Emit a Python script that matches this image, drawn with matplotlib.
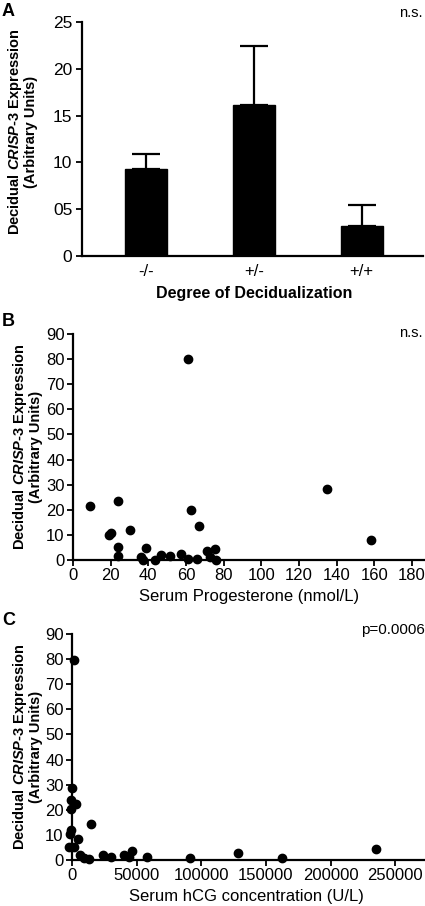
from matplotlib import pyplot as plt
import numpy as np

plt.rcParams['font.family'] = ['Liberation Sans', 'DejaVu Sans']
plt.rcParams['mathtext.fontset'] = 'custom'
plt.rcParams['mathtext.bfit'] = 'Liberation Sans:italic:bold'
plt.rcParams['mathtext.rm'] = 'Liberation Sans'

# Panel A - bar chart
groups = ['-/-', '+/-', '+/+']
means = [9.25, 16.15, 3.25]
upper_err = [1.6, 6.25, 2.2]
a_ticks = [0, 5, 10, 15, 20, 25]
a_ticklabels = ['0', '05', '10', '15', '20', '25']

# Panel B - progesterone scatter
prog_x = [9.0, 24.0, 19.3, 20.2, 23.9, 23.9, 30.2, 36.1, 37.0, 38.9, 43.5, 46.7,
          51.5, 57.3, 61.2, 61.2, 62.6, 66.1, 67.2, 71.3, 73.0, 75.8, 75.7,
          134.7, 158.4]
prog_y = [21.6, 23.5, 10.0, 10.8, 5.3, 1.6, 11.9, 1.1, 0.0, 4.8, 0.0, 1.9,
          1.6, 2.4, 80.0, 0.5, 19.9, 0.5, 13.7, 3.5, 1.1, 0.0, 4.5,
          28.4, 8.0]

# Panel C - hCG scatter
hcg_x = [1500, 0, -500, 2800, -700, -900, -1500, -2600, 1300, 4600, 14700,
         6400, 9500, 12900, 24000, 30500, 40600, 46300, 44300, 58000, 91100,
         128600, 162300, 235000]
hcg_y = [79.8, 28.8, 23.9, 22.2, 20.2, 12.0, 10.4, 5.0, 5.0, 8.2, 14.3,
         2.0, 0.8, 0.3, 2.1, 1.1, 2.1, 3.7, 1.1, 1.1, 0.8,
         2.8, 0.8, 4.5]

ylabel = 'Decidual $\\mathbfit{CRISP}$-3 Expression\n(Arbitrary Units)'

W, H = 425, 906
fig = plt.figure(figsize=(W / 100, H / 100), dpi=100)


def style_axes(ax):
    for s in ['top', 'right']:
        ax.spines[s].set_visible(False)
    for s in ['left', 'bottom']:
        ax.spines[s].set_linewidth(1.6)
    ax.tick_params(direction='out', width=1.3, length=4, color='black')


# ---- A ----
axA = fig.add_axes([82 / W, 1 - 256 / H, 341 / W, 234 / H])
xpos = np.arange(len(groups))
axA.bar(xpos, means, width=0.39, color='black', edgecolor='black')
axA.errorbar(xpos, means, yerr=[np.zeros(3), upper_err], fmt='none',
             ecolor='black', elinewidth=1.6, capsize=10, capthick=1.6)
axA.set_xlim(-0.593, 2.57)
axA.set_ylim(0, 25)
axA.set_yticks(a_ticks)
axA.set_yticklabels(a_ticklabels)
axA.set_xticks(xpos)
axA.set_xticklabels(groups)
style_axes(axA)
axA.tick_params(axis='y', labelsize=12.5, pad=3)
axA.tick_params(axis='x', length=0, labelsize=12, pad=6)
axA.set_xlabel('Degree of Decidualization', fontsize=11.5, fontweight='bold')
axA.xaxis.set_label_coords(0.506, -0.13)
axA.set_ylabel(ylabel, fontsize=10.5, fontweight='bold', linespacing=1.0)
axA.yaxis.set_label_coords(-0.128, 0.53)
fig.text(2 / W, 1 - 3 / H, 'A', fontsize=13, fontweight='bold', va='top')
fig.text(423 / W, 1 - 13 / H, 'n.s.', fontsize=10.5, ha='right', va='center')

# ---- B ----
axB = fig.add_axes([73 / W, 1 - 560 / H, 352 / W, 226 / H])
axB.plot(prog_x, prog_y, 'o', color='black', markersize=6, clip_on=False)
axB.set_xlim(0, 187)
axB.set_ylim(0, 90)
axB.set_xticks(np.arange(0, 181, 20))
axB.set_yticks(np.arange(0, 91, 10))
style_axes(axB)
axB.tick_params(labelsize=12, length=4.5, pad=1.5)
axB.set_xlabel('Serum Progesterone (nmol/L)', fontsize=12)
axB.xaxis.set_label_coords(0.501, -0.128)
axB.set_ylabel(ylabel, fontsize=10.5, fontweight='bold', linespacing=1.0)
axB.yaxis.set_label_coords(-0.086, 0.5)
fig.text(2 / W, 1 - 313 / H, 'B', fontsize=13, fontweight='bold', va='top')
fig.text(423 / W, 1 - 333 / H, 'n.s.', fontsize=10.5, ha='right', va='center')

# ---- C ----
axC = fig.add_axes([72 / W, 1 - 860 / H, 353 / W, 226 / H])
axC.plot(hcg_x, hcg_y, 'o', color='black', markersize=6, clip_on=False)
axC.set_xlim(0, 273000)
axC.set_ylim(0, 90)
axC.set_xticks(np.arange(0, 250001, 50000))
axC.set_yticks(np.arange(0, 91, 10))
style_axes(axC)
axC.tick_params(labelsize=12, length=4.5, pad=1.5)
axC.set_xlabel('Serum hCG concentration (U/L)', fontsize=12)
axC.xaxis.set_label_coords(0.493, -0.128)
axC.set_ylabel(ylabel, fontsize=10.5, fontweight='bold', linespacing=1.0)
axC.yaxis.set_label_coords(-0.083, 0.5)
fig.text(2 / W, 1 - 612 / H, 'C', fontsize=13, fontweight='bold', va='top')
fig.text(425 / W, 1 - 630 / H, 'p=0.0006', fontsize=11, ha='right', va='center')

fig.savefig('out.png', dpi=100)
